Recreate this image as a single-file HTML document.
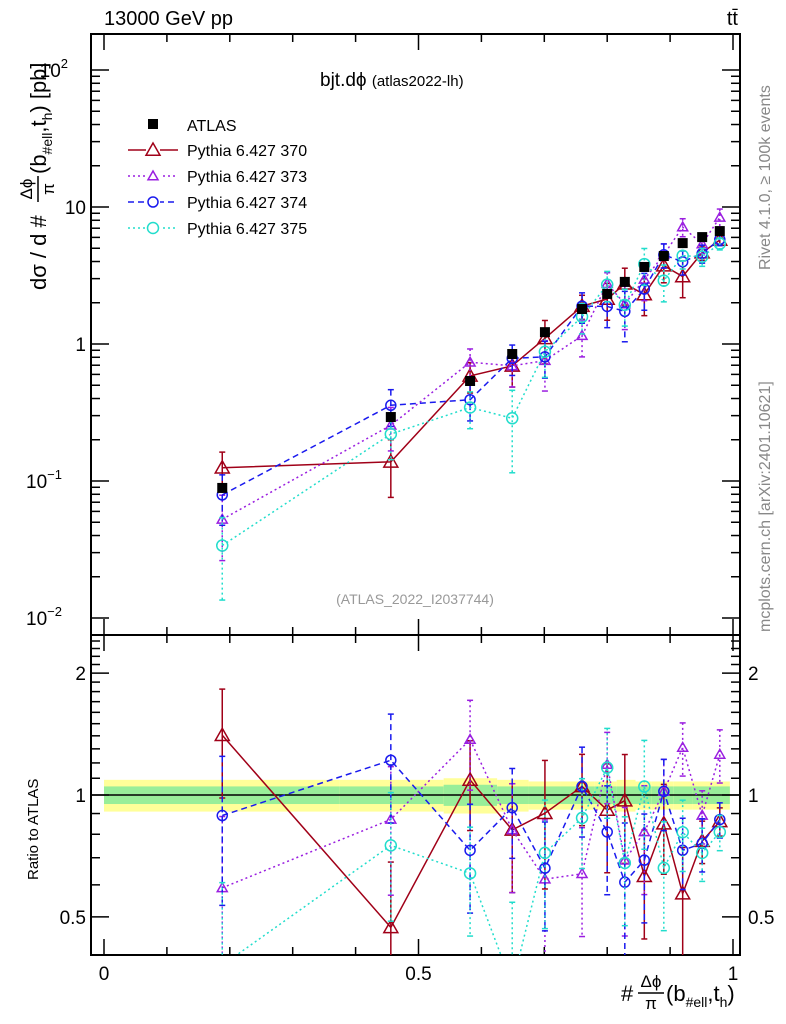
<!DOCTYPE html>
<html><head><meta charset="utf-8"><style>
body{margin:0;background:#fff;width:786px;height:1024px;overflow:hidden}
svg text{font-family:"Liberation Sans",Arial,sans-serif}
</style></head><body>
<svg id="c" width="786" height="1024" xmlns="http://www.w3.org/2000/svg" style="display:block">
<text x="104" y="25" font-size="20">13000 GeV pp</text>
<text x="738" y="25" font-size="20" text-anchor="end">tt̄</text>
<text x="320" y="86" font-size="19">bjt.dϕ <tspan font-size="15">(atlas2022-lh)</tspan></text>
<text x="415" y="604" font-size="14" fill="#999" text-anchor="middle">(ATLAS_2022_I2037744)</text>
<text transform="translate(770,270) rotate(-90)" font-size="16" fill="#888">Rivet 4.1.0, ≥ 100k events</text>
<text transform="translate(770,632) rotate(-90)" font-size="16" fill="#888">mcplots.cern.ch [arXiv:2401.10621]</text>
<g transform="translate(46,290) rotate(-90)">
 <text x="0" y="0" font-size="22">dσ / d #</text>
 <text x="101" y="-14" font-size="17" text-anchor="middle">Δϕ</text>
 <line x1="88" x2="114" y1="-8" y2="-8" stroke="#000" stroke-width="1.5"/>
 <text x="101" y="8" font-size="17" text-anchor="middle">π</text>
 <text x="116" y="0" font-size="22">(b<tspan font-size="14" dy="6">#ell</tspan><tspan dy="-6">,t</tspan><tspan font-size="14" dy="6">h</tspan><tspan dy="-6">) [pb]</tspan></text>
</g>
<text transform="translate(38,880) rotate(-90)" font-size="15">Ratio to ATLAS</text>
<g>
 <text x="621" y="1001" font-size="22">#</text>
 <text x="651" y="987" font-size="17" text-anchor="middle">Δϕ</text>
 <line x1="638" x2="664" y1="993" y2="993" stroke="#000" stroke-width="1.5"/>
 <text x="651" y="1009" font-size="17" text-anchor="middle">π</text>
 <text x="666" y="1001" font-size="22">(b<tspan font-size="14" dy="6">#ell</tspan><tspan dy="-6">,t</tspan><tspan font-size="14" dy="6">h</tspan><tspan dy="-6">)</tspan></text>
</g>
<g id="g"></g>
</svg>
<script>
const xc=[0.188,0.456,0.582,0.649,0.701,0.760,0.800,0.828,0.859,0.890,0.920,0.951,0.979];
const binEdges=[0,0.375,0.54,0.625,0.675,0.725,0.78,0.815,0.845,0.87,0.905,0.935,0.965,0.995];
const atlas=[0.089,0.293,0.537,0.845,1.22,1.80,2.32,2.84,3.65,4.39,5.45,6.03,6.67];
const bandTot=[0.09,0.09,0.10,0.09,0.08,0.08,0.08,0.09,0.08,0.08,0.08,0.08,0.08];
const bandStat=[0.05,0.05,0.06,0.05,0.05,0.05,0.05,0.05,0.05,0.05,0.05,0.05,0.05];
const mc370=[0.125,0.138,0.585,0.693,1.10,1.89,2.13,2.75,2.30,3.73,3.11,4.64,5.74];
const mc373=[0.0525,0.255,0.736,0.693,0.756,1.15,2.76,1.96,2.96,4.48,7.14,5.37,8.40];
const mc374=[0.0792,0.357,0.392,0.786,0.805,1.89,1.88,1.73,2.52,4.48,3.98,4.58,5.80];
const mc375=[0.0338,0.220,0.344,0.287,0.878,1.58,2.71,1.93,3.83,2.90,4.41,4.34,5.40];
const err370=[0.3,0.45,0.25,0.3,0.35,0.2,0.3,0.3,0.3,0.25,0.3,0.12,0.08];
const err373=[0.5,0.35,0.25,0.3,0.4,0.3,0.2,0.35,0.3,0.2,0.15,0.15,0.15];
const err374=[0.4,0.3,0.3,0.25,0.3,0.25,0.3,0.4,0.3,0.2,0.2,0.15,0.1];
const err375=[0.6,0.35,0.3,0.6,0.35,0.25,0.25,0.3,0.3,0.3,0.2,0.15,0.1];
const xTicks=[0,0.5,1];const xTickLabels=["0","0.5","1"];
const yDecades=[-2,-1,0,1,2];
const rTicks=[0.5,1,2];const rTickLabels=["0.5","1","2"];

const L=91,R=740,T=34,M=635,B=955;
const X=v=>104+v*629;
const Y=v=>344-137*Math.log10(v);
const RY=v=>795-405*Math.log10(v);
const g=document.getElementById('g');const NS='http://www.w3.org/2000/svg';
function el(t,a,n){const e=document.createElementNS(NS,t);for(const k in a)e.setAttribute(k,a[k]);


g.appendChild(e);return e;}
function txt(x,y,s,sz,anc,n,sup){const e=el('text',{x:x,y:y,'font-size':sz,'text-anchor':anc},n);e.textContent=s;
if(sup){const t=document.createElementNS(NS,'tspan');t.setAttribute('dy','-9');t.setAttribute('font-size','13');t.textContent=sup;e.appendChild(t);}return e;}
const clip=el('clipPath',{id:'ct'},'clip-top');const cr=document.createElementNS(NS,'rect');cr.setAttribute('x',L);cr.setAttribute('y',T);cr.setAttribute('width',R-L);cr.setAttribute('height',M-T);clip.appendChild(cr);
const clip2=el('clipPath',{id:'cb'},'clip-bottom');const cr2=document.createElementNS(NS,'rect');cr2.setAttribute('x',L);cr2.setAttribute('y',M);cr2.setAttribute('width',R-L);cr2.setAttribute('height',B-M);clip2.appendChild(cr2);
for(let i=0;i<atlas.length;i++){
 const x0=X(binEdges[i]),x1=X(binEdges[i+1]);
 el('rect',{x:x0,y:RY(1+bandTot[i]),width:x1-x0,height:RY(1-bandTot[i])-RY(1+bandTot[i]),fill:'#ffff99'},'band-total');
 el('rect',{x:x0,y:RY(1+bandStat[i]),width:x1-x0,height:RY(1-bandStat[i])-RY(1+bandStat[i]),fill:'#99ee99'},'band-stat');
}
el('line',{x1:L,x2:R,y1:RY(1),y2:RY(1),stroke:'#000','stroke-width':1.5},'ratio-unity-line');
el('rect',{x:L,y:T,width:R-L,height:M-T,fill:'none',stroke:'#000','stroke-width':2},'top-frame');
el('rect',{x:L,y:M,width:R-L,height:B-M,fill:'none',stroke:'#000','stroke-width':2},'bottom-frame');
for(let v=0;v<=1.001;v+=0.1){const big=Math.abs(v*2-Math.round(v*2))<1e-6;const l=big?16:8;
 [[T,1],[M,-1],[M,1],[B,-1]].forEach(([y,d])=>el('line',{x1:X(v),x2:X(v),y1:y,y2:y+d*l,stroke:'#000','stroke-width':1.5},'x-tick'));}
xTicks.forEach((v,i)=>txt(X(v),980,xTickLabels[i],19,'middle','x-tick-label'));
yDecades.forEach(d=>{for(let k=1;k<10;k++){const v=k*Math.pow(10,d);const y=Y(v);if(y<T||y>M)continue;const l=k==1?18:9;
 el('line',{x1:L,x2:L+l,y1:y,y2:y,stroke:'#000','stroke-width':1.5},'y-tick');el('line',{x1:R,x2:R-l,y1:y,y2:y,stroke:'#000','stroke-width':1.5},'y-tick');}
 const y=Y(Math.pow(10,d));
 if(d==0)txt(86,y+7,'1',19,'end','y-tick-label');else if(d==1)txt(86,y+7,'10',19,'end','y-tick-label');
 else txt(d<0?62:68,y+7,'10',19,'end','y-tick-label',d==2?'2':String(d).replace('-','−'));});
for(let v=0.4;v<=2.45;v+=0.1){const y=RY(v);if(y<M||y>B)continue;const big=[0.5,1,2].some(t=>Math.abs(t-v)<1e-6);const l=big?18:9;
 el('line',{x1:L,x2:L+l,y1:y,y2:y,stroke:'#000','stroke-width':1.5},'ratio-tick');el('line',{x1:R,x2:R-l,y1:y,y2:y,stroke:'#000','stroke-width':1.5},'ratio-tick');}
rTicks.forEach((v,i)=>{txt(86,RY(v)+7,rTickLabels[i],19,'end','ratio-tick-label');txt(748,RY(v)+7,rTickLabels[i],19,'start','ratio-tick-label');});
const series=[
 {n:'pythia-370',d:mc370,e:err370,c:'#a00018',dash:'',m:'tri',r:7},
 {n:'pythia-373',d:mc373,e:err373,c:'#9a1ee0',dash:'2,3',m:'tri',r:5},
 {n:'pythia-374',d:mc374,e:err374,c:'#1a1aee',dash:'6,4',m:'circ',r:5},
 {n:'pythia-375',d:mc375,e:err375,c:'#22ddcc',dash:'2,3',m:'circ',r:5.5}];
function marker(s,x,y,name,cp){if(s.m=='tri'){const r=s.r;el('polygon',{points:`${x},${y-r} ${x-r},${y+r*0.75} ${x+r},${y+r*0.75}`,fill:'none',stroke:s.c,'stroke-width':1.5,'clip-path':cp},name);}
 else el('circle',{cx:x,cy:y,r:s.r,fill:'none',stroke:s.c,'stroke-width':1.5,'clip-path':cp},name);}
series.forEach(s=>{
 const ptsT=[],ptsB=[];
 s.d.forEach((v,i)=>{ptsT.push(X(xc[i])+','+Y(v));ptsB.push(X(xc[i])+','+RY(v/atlas[i]));});
 el('polyline',{points:ptsT.join(' '),fill:'none',stroke:s.c,'stroke-width':1.5,'stroke-dasharray':s.dash,'clip-path':'url(#ct)'},s.n+'-line');
 el('polyline',{points:ptsB.join(' '),fill:'none',stroke:s.c,'stroke-width':1.5,'stroke-dasharray':s.dash,'clip-path':'url(#cb)'},s.n+'-ratio-line');
 s.d.forEach((v,i)=>{const x=X(xc[i]);const e=s.e[i];
  [[Y,v,'url(#ct)',''],[RY,v/atlas[i],'url(#cb)','-ratio']].forEach(([f,val,cp,suf])=>{
   const y1=f(val*(1+e)),y2=f(Math.max(val*(1-e),1e-4));
   el('line',{x1:x,x2:x,y1:y1,y2:y2,stroke:s.c,'stroke-width':1.5,'stroke-dasharray':s.dash,'clip-path':cp},s.n+suf+'-errorbar');
   el('line',{x1:x-3,x2:x+3,y1:y1,y2:y1,stroke:s.c,'stroke-width':1.5,'clip-path':cp},s.n+suf+'-errorcap');
   el('line',{x1:x-3,x2:x+3,y1:y2,y2:y2,stroke:s.c,'stroke-width':1.5,'clip-path':cp},s.n+suf+'-errorcap');
   marker(s,x,f(val),s.n+suf+'-point',cp);});
 });
});
atlas.forEach((v,i)=>{const x=X(xc[i]);el('line',{x1:x,x2:x,y1:Y(v*1.08),y2:Y(v*0.92),stroke:'#000','stroke-width':1.5},'atlas-errorbar');
 el('rect',{x:x-5,y:Y(v)-5,width:10,height:10,fill:'#000'},'atlas-point');});
txt(187,131,'ATLAS',16,'start','legend-atlas');el('rect',{x:148,y:119,width:10,height:10,fill:'#000'},'legend-atlas-marker');
series.forEach((s,i)=>{const y=150+i*26;
 el('line',{x1:128,x2:178,y1:y,y2:y,stroke:s.c,'stroke-width':1.5,'stroke-dasharray':s.dash},'legend-'+s.n+'-line');
 el('rect',{x:146,y:y-8,width:14,height:16,fill:'#fff'},'legend-bg');
 marker(s,153,y,'legend-'+s.n+'-marker','');
 txt(187,y+6,'Pythia 6.427 '+s.n.split('-')[1],16,'start','legend-'+s.n);});
</script>
</body></html>
